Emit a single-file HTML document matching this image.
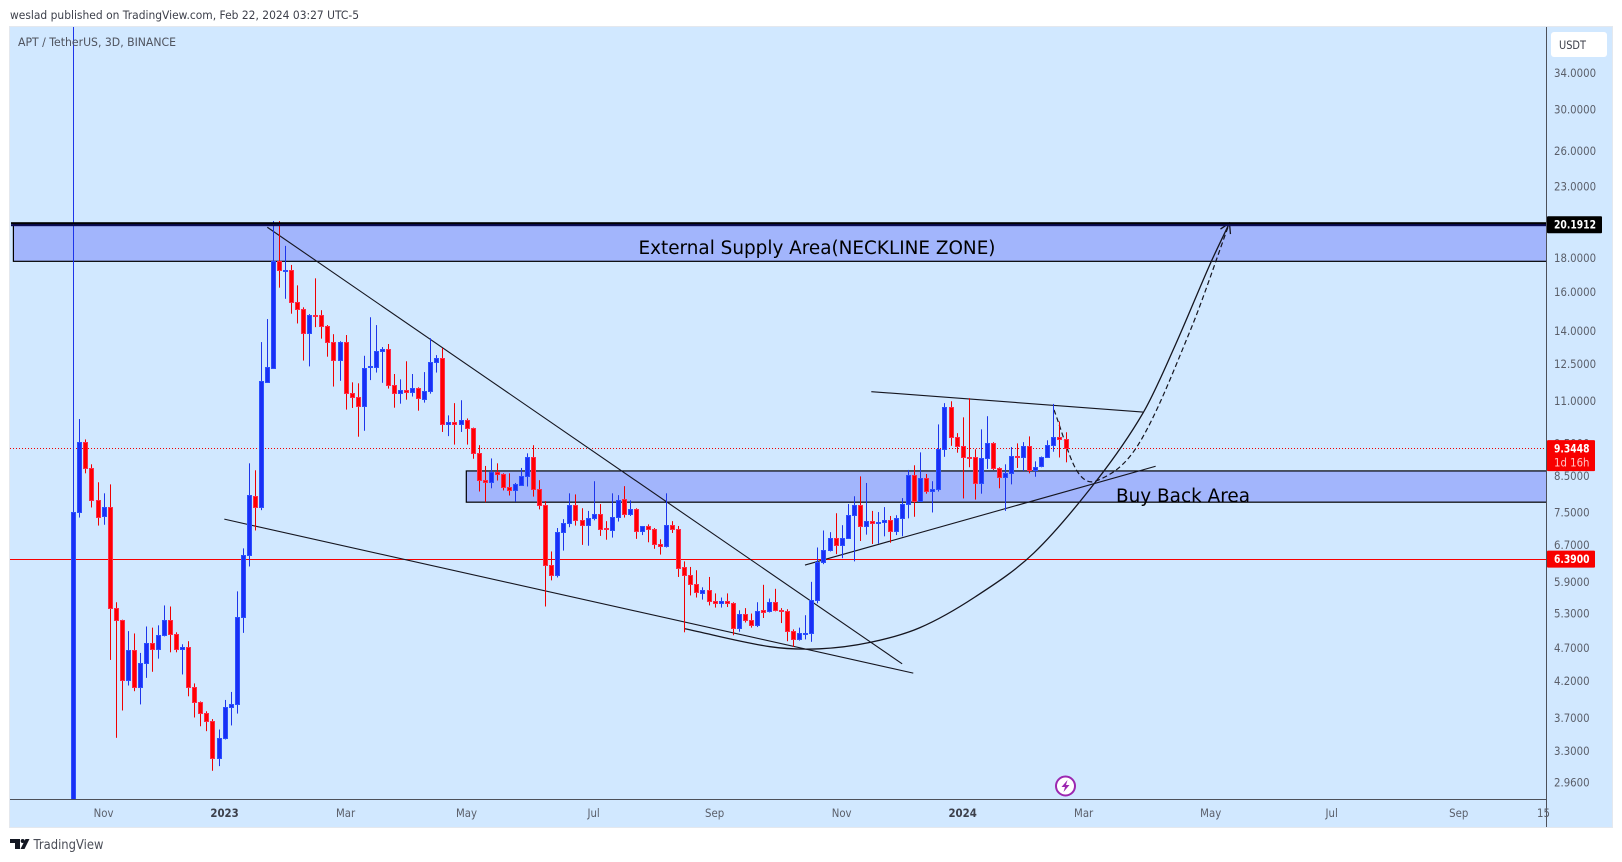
<!DOCTYPE html>
<html lang="en">
<head>
<meta charset="utf-8">
<title>APT / TetherUS chart</title>
<style>
html,body{margin:0;padding:0;background:#fff;width:1622px;height:862px;overflow:hidden}
svg{display:block;font-family:"DejaVu Sans","Liberation Sans",sans-serif}
</style>
</head>
<body>
<svg id="chart" width="1622" height="862" viewBox="0 0 1622 862">
  <defs>
    <clipPath id="pane-clip"><rect x="10" y="27" width="1537" height="772"/></clipPath>
  </defs>
  <text x="10" y="19" font-size="11.5" fill="#3c3f4a" textLength="349" lengthAdjust="spacingAndGlyphs">weslad published on TradingView.com, Feb 22, 2024 03:27 UTC-5</text>
  <rect x="9.5" y="26.5" width="1603" height="801" fill="#d1e8ff" stroke="#e4e8ee"/>
  <g id="pane" clip-path="url(#pane-clip)"></g>
  <text x="18" y="46" font-size="11.5" fill="#4f535e" textLength="158" lengthAdjust="spacingAndGlyphs">APT / TetherUS, 3D, BINANCE</text>
  <line x1="1546.5" y1="27" x2="1546.5" y2="827" stroke="#4d5059"/>
  <line x1="10" y1="799.5" x2="1547" y2="799.5" stroke="#4d5059"/>
  <g id="y-axis"></g>
  <g id="x-axis"></g>
  <rect x="1551" y="32" width="56" height="25" rx="3" fill="#fff"/>
  <text x="1559" y="49" font-size="11.5" fill="#3c3f4a" textLength="27" lengthAdjust="spacingAndGlyphs">USDT</text>
  <g id="price-tags"></g>
  <g>
    <circle cx="1065.5" cy="786" r="9.5" fill="#fff" stroke="#9c27b0" stroke-width="2"/>
    <polygon points="1067.5,780 1061.5,787 1065,787 1063.5,792 1069.5,785 1066,785" fill="#9c27b0"/>
  </g>
  <g>
    <polygon points="10,839 20,839 20,849 15,849 15,843 10,843" fill="#131722"/>
    <circle cx="22.7" cy="841" r="2" fill="#131722"/>
    <polygon points="25.5,839 29.5,839 24.5,849 20.5,849" fill="#131722"/>
    <text x="33.5" y="849" font-size="13.5" fill="#4a4d57" textLength="70" lengthAdjust="spacingAndGlyphs">TradingView</text>
  </g>
</svg>
<script>
const opens = [2.50,7.49,9.54,8.73,7.81,7.40,7.63,5.39,5.18,4.21,
4.66,4.11,4.46,4.78,4.68,4.91,5.17,4.93,4.68,4.71,
4.11,3.90,3.76,3.65,3.22,3.45,3.83,3.88,5.22,6.47,
7.92,7.63,11.74,12.33,17.77,17.22,17.24,15.43,15.07,13.88,
14.79,14.77,14.22,13.46,12.65,13.46,11.29,11.14,10.80,12.34,
12.35,13.04,13.15,11.60,11.29,11.41,11.33,11.48,11.06,11.37,
12.56,12.73,10.14,10.21,10.17,10.31,10.03,9.20,8.37,8.31,
8.60,8.55,8.18,8.09,8.23,8.48,9.05,8.12,7.68,6.25,
6.04,7.00,7.22,7.68,7.29,7.17,7.34,7.45,7.09,7.04,
7.37,7.84,7.45,7.58,7.02,7.15,7.07,6.72,6.68,7.17,
7.07,6.21,6.04,5.85,5.68,5.73,5.52,5.48,5.53,5.48,
5.04,5.28,5.18,5.09,5.35,5.33,5.50,5.36,5.33,4.98,
4.84,4.93,4.94,5.55,6.31,6.58,6.87,6.69,6.87,7.43,
7.68,7.15,7.27,7.22,7.24,7.29,7.02,7.34,7.71,8.51,
7.79,8.43,8.06,8.12,9.31,10.76,9.70,9.41,9.06,9.05,
8.29,9.02,9.50,8.73,8.46,8.57,9.11,9.08,9.41,8.66,
8.79,9.05,9.44,9.70,9.63];
const highs = [100,10.33,9.63,8.84,8.31,8.00,8.25,5.50,5.18,4.98,
4.94,4.62,5.06,5.04,5.08,5.44,5.42,4.96,4.76,4.81,
4.16,3.91,3.78,3.68,3.55,3.93,4.04,5.71,6.62,8.87,
8.66,13.46,14.57,20.41,20.41,18.74,17.55,16.36,15.17,14.82,
16.76,15.02,14.27,13.83,13.50,13.79,11.72,11.68,12.84,14.66,
14.27,13.23,13.37,12.06,11.84,12.60,12.06,11.52,12.14,13.64,
12.87,13.19,10.46,10.91,11.02,10.35,10.03,9.44,8.79,9.02,
8.87,8.57,8.57,8.29,8.73,9.18,9.44,8.37,7.79,6.55,
7.10,7.32,8.00,7.97,7.60,7.53,8.34,7.71,7.27,8.00,
7.95,8.20,7.81,7.60,7.15,7.19,7.10,6.83,8.00,7.27,
7.15,6.33,6.21,6.14,5.79,6.00,5.67,5.59,5.67,5.50,
5.35,5.39,5.29,5.50,5.84,5.57,5.76,5.39,5.37,5.01,
5.04,5.26,5.90,6.64,7.04,7.00,7.47,7.17,7.71,7.92,
8.48,8.29,7.53,7.50,7.63,7.40,7.42,7.87,8.67,8.81,
9.21,8.55,8.34,10.14,10.91,10.98,9.84,10.39,11.10,9.31,
9.97,10.43,9.54,8.75,8.84,9.38,9.50,9.54,9.73,8.93,
9.08,9.60,10.88,10.24,9.87];
const lows = [2.30,7.36,8.57,7.62,7.16,7.18,4.51,3.45,3.79,4.13,
4.05,3.87,4.24,4.33,4.53,4.89,4.63,4.63,4.29,3.98,
3.70,3.59,3.53,3.08,3.13,3.43,3.60,3.75,4.95,6.22,
7.04,7.55,11.74,12.29,16.23,15.62,14.84,14.35,12.63,12.38,
14.17,13.62,12.80,11.55,11.78,10.67,10.73,9.72,9.92,11.81,
12.12,11.70,11.47,10.74,10.89,11.04,11.16,10.63,10.93,11.27,
12.12,9.88,9.74,9.46,9.88,9.46,9.01,8.05,7.76,8.14,
8.36,8.08,7.94,7.77,8.23,8.19,7.91,7.57,5.42,5.93,
5.99,6.57,7.12,7.16,6.70,6.68,7.29,6.91,6.82,6.87,
7.26,7.36,7.40,6.84,6.93,6.76,6.61,6.48,6.64,6.98,
6.00,4.96,5.63,5.59,5.55,5.44,5.40,5.40,5.41,4.91,
4.97,5.13,5.04,5.05,5.21,5.31,5.33,5.12,4.81,4.72,
4.82,4.84,4.80,5.48,6.27,6.55,6.49,6.40,6.84,6.33,
6.79,6.94,6.72,6.73,6.90,6.75,6.93,6.90,7.34,7.38,
7.77,7.99,7.49,8.05,9.07,9.42,9.20,7.86,8.75,7.83,
7.99,8.70,8.67,8.14,7.53,8.25,8.73,8.64,8.57,8.47,
8.75,9.05,9.23,9.05,8.90];
const closes = [7.50,9.54,8.73,7.81,7.37,7.63,5.39,5.18,4.21,4.66,
4.11,4.46,4.78,4.68,4.91,5.17,4.93,4.68,4.71,4.11,
3.90,3.76,3.65,3.22,3.45,3.83,3.88,5.22,6.47,7.95,
7.63,11.77,12.35,17.77,17.24,17.26,15.43,15.07,13.88,14.77,
14.75,14.22,13.46,12.65,13.46,11.29,11.14,10.80,12.31,12.38,
13.04,13.15,11.60,11.29,11.41,11.33,11.48,11.10,11.37,12.56,
12.73,10.14,10.21,10.17,10.31,10.03,9.20,8.37,8.31,8.60,
8.55,8.18,8.09,8.26,8.48,9.05,8.12,7.68,6.25,6.04,
7.00,7.22,7.68,7.29,7.17,7.34,7.45,7.07,7.07,7.37,
7.81,7.45,7.58,7.02,7.14,7.07,6.71,6.68,7.17,7.07,
6.18,6.04,5.85,5.69,5.73,5.52,5.48,5.53,5.48,5.04,
5.28,5.18,5.09,5.33,5.32,5.50,5.35,5.34,4.98,4.84,
4.94,4.95,5.55,6.31,6.58,6.87,6.69,6.87,7.43,7.68,
7.15,7.27,7.23,7.25,7.29,7.02,7.34,7.71,8.51,7.80,
8.43,8.06,8.12,9.31,10.76,9.70,9.41,9.05,9.03,8.29,
9.02,9.50,8.73,8.46,8.57,9.11,9.08,9.41,8.66,8.75,
9.05,9.44,9.70,9.63,9.3448];
const priceTicks = [34,30,26,23,18,16,14,12.5,11,9.5,8.5,7.5,6.7,5.9,5.3,4.7,4.2,3.7,3.3,2.96];
const timeLabels = ["Nov","2023","Mar","May","Jul","Sep","Nov","2024","Mar","May","Jul","Sep","15"];
const timeBars = [5,25,45,65,86,106,127,147,167,188,208,229,243];
const boldLabels = ["2023","2024"];
const supplyZonePrices = [20.1912,17.77];
const supplyZoneStartBar = -9.9;
const buyZonePrices = [8.64,7.76];
const buyZoneStartBar = 64.96;
const neckPrice = 20.1912;
const supportPrice = 6.39;
const lastPrice = 9.3448;
const trendStartBars = [32.07,24.96,131.9,120.94];
const trendStartPrices = [19.98,7.32,11.35,6.25];
const trendEndBars = [137,138.84,176.8,178.9];
const trendEndPrices = [4.45,4.31,10.58,8.78];
const cupBars = [101.1,115.16,123.4,131.7,139.95,149.04,158.8,169.1,176.9,182.1,187.9,191.1];
const cupPrices = [5.02,4.72,4.686,4.79,5.04,5.60,6.52,8.35,10.58,13.29,17.6,20.27];
const pathBars = [162.1,165.8,169.1,176,184.6,191.1];
const pathPrices = [10.66,8.67,8.35,9.45,13.99,20.27];

const NS = 'http://www.w3.org/2000/svg';
const PANE_RIGHT = 1546;
const xOf = i => 73.3 + 6.05 * i;
const yOf = p => 72.7 + (Math.log(34) - Math.log(p)) * 290.7;
const pane = document.getElementById('pane');

function make(tag, parent, attrs) {
  const el = document.createElementNS(NS, tag);
  for (const k in attrs) el.setAttribute(k, attrs[k]);
  parent.appendChild(el);
  return el;
}

function condense(t, factor) {
  const len = t.getComputedTextLength();
  t.setAttribute('textLength', len * factor);
  t.setAttribute('lengthAdjust', 'spacingAndGlyphs');
}

function smoothPath(xs, ys) {
  let d = 'M' + xs[0] + ',' + ys[0];
  for (let i = 0; i < xs.length - 1; i++) {
    const x0 = xs[Math.max(i - 1, 0)], y0 = ys[Math.max(i - 1, 0)];
    const x1 = xs[i], y1 = ys[i], x2 = xs[i + 1], y2 = ys[i + 1];
    const x3 = xs[Math.min(i + 2, xs.length - 1)], y3 = ys[Math.min(i + 2, ys.length - 1)];
    const seg = x2 - x1;
    const m1 = (y2 - y0) / (x2 - x0), m2 = (y3 - y1) / (x3 - x1);
    d += ' C' + (x1 + seg / 3) + ',' + (y1 + m1 * seg / 3) + ' ' + (x2 - seg / 3) + ',' + (y2 - m2 * seg / 3) + ' ' + x2 + ',' + y2;
  }
  return d;
}

/* zones */
const supplyTop = yOf(supplyZonePrices[0]), supplyBottom = yOf(supplyZonePrices[1]);
const supplyZone = make('rect', pane, {x: xOf(supplyZoneStartBar), y: supplyTop, width: PANE_RIGHT - xOf(supplyZoneStartBar) + 2, height: supplyBottom - supplyTop, fill: '#a2b5fc', stroke: '#000', 'stroke-width': 1.2});


const buyTop = yOf(buyZonePrices[0]), buyBottom = yOf(buyZonePrices[1]);
const buyZone = make('rect', pane, {x: xOf(buyZoneStartBar), y: buyTop, width: PANE_RIGHT - xOf(buyZoneStartBar) + 2, height: buyBottom - buyTop, fill: '#a2b5fc', stroke: '#000', 'stroke-width': 1.2});



/* horizontal price lines */
const supportLine = make('line', pane, {x1: 10, x2: PANE_RIGHT, y1: Math.round(yOf(supportPrice)) + 0.5, y2: Math.round(yOf(supportPrice)) + 0.5, stroke: '#f80000', 'stroke-width': 1});


const lastLine = make('line', pane, {x1: 10, x2: PANE_RIGHT - 2, y1: Math.round(yOf(lastPrice)) + 0.5, y2: Math.round(yOf(lastPrice)) + 0.5, stroke: '#f00000', 'stroke-width': 1, 'stroke-dasharray': '1 2'});



/* trend lines */
trendStartBars.forEach((b, k) => {
  const tl = make('line', pane, {x1: xOf(b), y1: yOf(trendStartPrices[k]), x2: xOf(trendEndBars[k]), y2: yOf(trendEndPrices[k]), stroke: '#15151f', 'stroke-width': 1.1});
  
  
});

/* curves */
const cup = make('path', pane, {d: smoothPath(cupBars.map(xOf), cupPrices.map(yOf)), fill: 'none', stroke: '#15151f', 'stroke-width': 1.3});


const projected = make('path', pane, {d: smoothPath(pathBars.map(xOf), pathPrices.map(yOf)), fill: 'none', stroke: '#15151f', 'stroke-width': 1.2, 'stroke-dasharray': '5 3'});


const tipX = xOf(cupBars[cupBars.length - 1]), tipY = yOf(cupPrices[cupPrices.length - 1]);
const arrowHead = make('path', pane, {d: 'M' + (tipX - 9) + ',' + (tipY + 6) + ' L' + tipX + ',' + tipY + ' L' + (tipX + 1) + ',' + (tipY + 11), fill: 'none', stroke: '#15151f', 'stroke-width': 1.3});



/* candles */
opens.forEach((o, i) => {
  const c = closes[i], up = c >= o;
  const cx = Math.round(xOf(i));
  const top = Math.round(yOf(Math.max(o, c))), bottom = Math.round(yOf(Math.min(o, c)));
  const h = Math.max(bottom - top + 1, 2);
  const hiY = yOf(highs[i]), loY = yOf(lows[i]);
  const wick = make('rect', pane, {x: cx, y: hiY, width: 1, height: loY - hiY, fill: up ? '#1d35ea' : '#f00000'});
  
  
  const body = make('rect', pane, {x: cx - 2, y: top, width: 5, height: h, fill: up ? '#2a50ff' : '#ff2a48'});
  
  
  if (h > 2) {
    const core = make('rect', pane, {x: cx - 1, y: top + 1, width: 3, height: h - 2, fill: up ? '#1a2ff5' : '#ff0000'});
    
    
  }
});

/* neckline on top */
const neckY = yOf(neckPrice);
const neckUpper = make('rect', pane, {x: 11, y: neckY - 2, width: PANE_RIGHT - 11, height: 2, fill: '#000'});


const neckLower = make('rect', pane, {x: 11, y: neckY, width: PANE_RIGHT - 11, height: 2, fill: '#0b0b55'});



/* zone labels */
const supplyLabel = make('text', pane, {x: 817, y: (supplyTop + supplyBottom) / 2 + 11, 'font-size': 18.5, 'text-anchor': 'middle', fill: '#000', textLength: 357, lengthAdjust: 'spacingAndGlyphs'});
supplyLabel.textContent = 'External Supply Area(NECKLINE ZONE)';


const buyLabel = make('text', pane, {x: 1183, y: 502, 'font-size': 18.5, 'text-anchor': 'middle', fill: '#000', textLength: 134, lengthAdjust: 'spacingAndGlyphs'});
buyLabel.textContent = 'Buy Back Area';



/* price axis */
const yAxis = document.getElementById('y-axis');
priceTicks.forEach(p => {
  const t = make('text', yAxis, {x: 1554, y: yOf(p) + 4.3, 'font-size': 11.5, fill: '#5a5e69'});
  t.textContent = p.toFixed(4);
  
  
  condense(t, 0.885);
});

/* time axis */
const xAxis = document.getElementById('x-axis');
timeLabels.forEach((label, k) => {
  const t = make('text', xAxis, {x: xOf(timeBars[k]), y: 817, 'font-size': 11.5, 'text-anchor': 'middle', fill: boldLabels.includes(label) ? '#3c3f4a' : '#5a5e69', 'font-weight': boldLabels.includes(label) ? 'bold' : 'normal'});
  t.textContent = label;
  
  
  condense(t, 0.885);
});

/* price tags */
const tags = document.getElementById('price-tags');
const neckTag = make('rect', tags, {x: 1547, y: neckY - 8, width: 55, height: 17, rx: 1, fill: '#000'});


const neckText = make('text', tags, {x: 1554, y: neckY + 4.5, 'font-size': 11.5, 'font-weight': 'bold', fill: '#fff', textLength: 42, lengthAdjust: 'spacingAndGlyphs'});
neckText.textContent = neckPrice.toFixed(4);


const lastY = yOf(lastPrice);
const lastTag = make('rect', tags, {x: 1547, y: lastY - 8, width: 48, height: 31, rx: 1, fill: '#f80000'});


const lastText = make('text', tags, {x: 1554, y: lastY + 4.5, 'font-size': 11.5, 'font-weight': 'bold', fill: '#fff', textLength: 35.5, lengthAdjust: 'spacingAndGlyphs'});
lastText.textContent = lastPrice.toFixed(4);


const countdown = make('text', tags, {x: 1554, y: lastY + 18.5, 'font-size': 11.5, fill: '#ffc4c4', textLength: 35.5, lengthAdjust: 'spacingAndGlyphs'});
countdown.textContent = '1d 16h';


const supportY = yOf(supportPrice);
const supportTag = make('rect', tags, {x: 1547, y: supportY - 8, width: 48, height: 17, rx: 1, fill: '#f80000'});


const supportText = make('text', tags, {x: 1554, y: supportY + 4.5, 'font-size': 11.5, 'font-weight': 'bold', fill: '#fff', textLength: 35.5, lengthAdjust: 'spacingAndGlyphs'});
supportText.textContent = supportPrice.toFixed(4);


</script>
</body>
</html>
